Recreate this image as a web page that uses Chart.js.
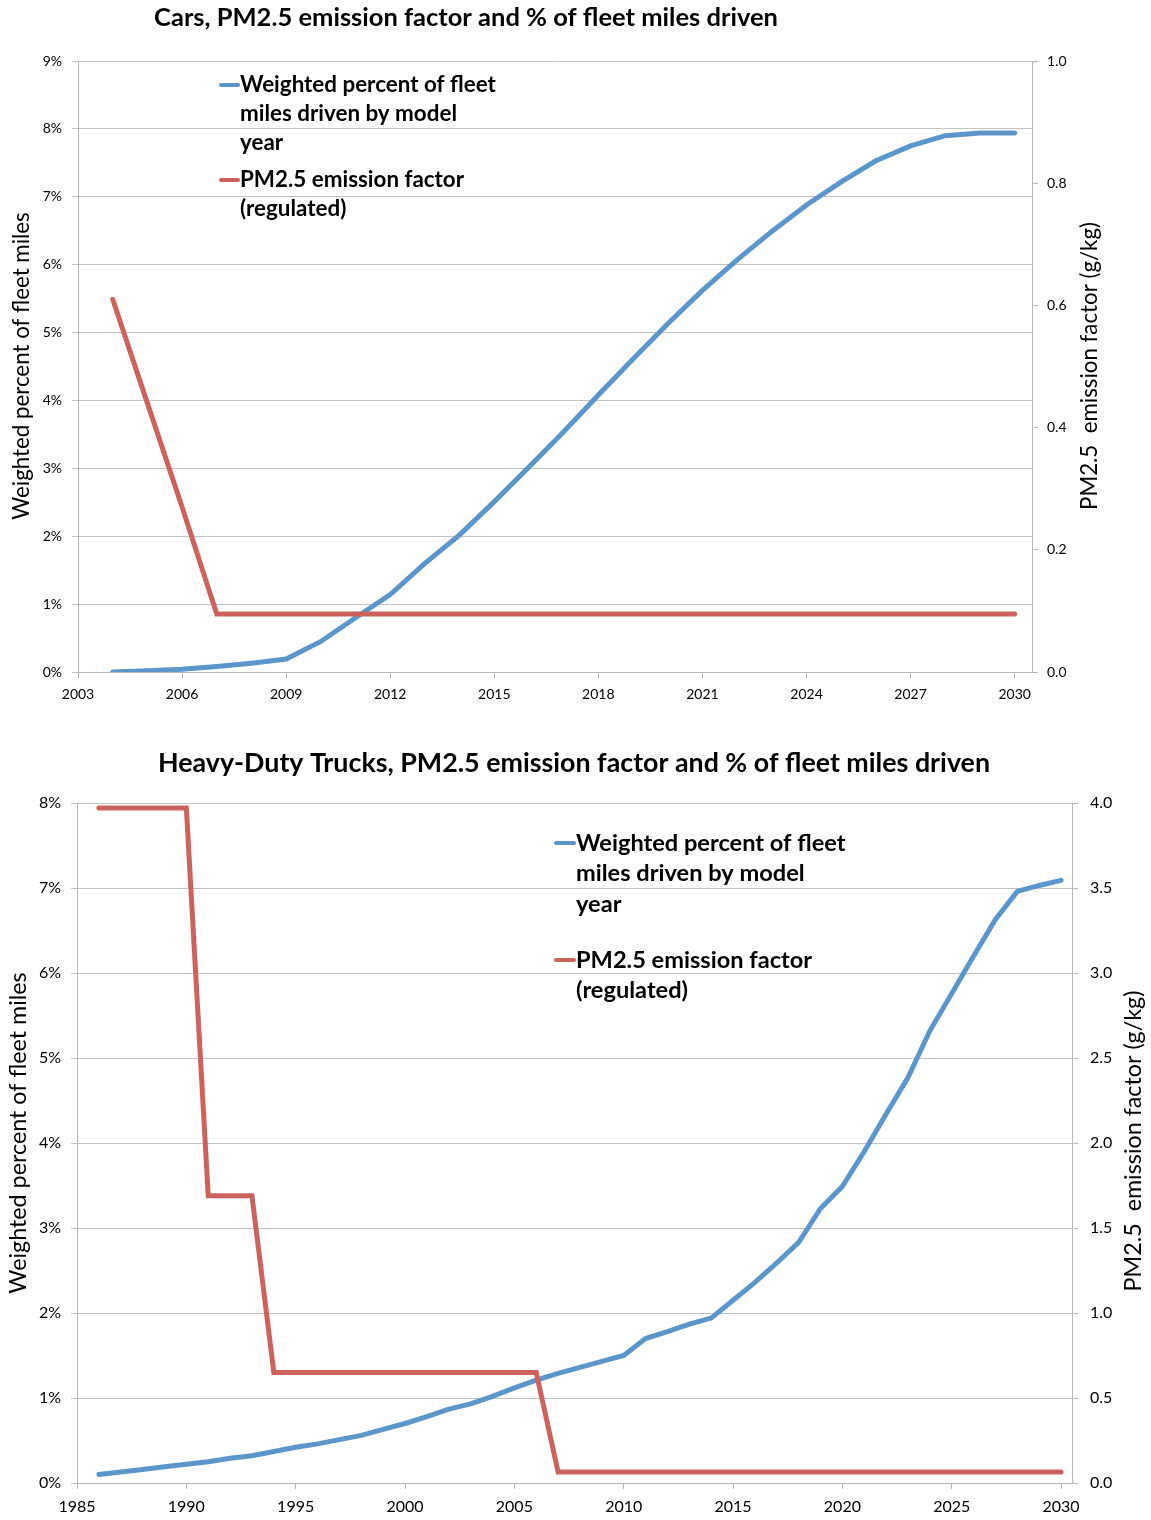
<!DOCTYPE html>
<html>
<head>
<meta charset="utf-8">
<script src="https://cdn.jsdelivr.net/npm/chart.js@4.4.0/dist/chart.umd.min.js"></script>
<style>
  html, body { margin: 0; padding: 0; background: #fff; }
  body { width: 1151px; height: 1520px; position: relative; overflow: hidden; }
  canvas { position: absolute; left: 0; }
  #cars { top: 0; }
  #trucks { top: 730px; }
</style>
</head>
<body>
<canvas id="cars" width="1151" height="712"></canvas>
<canvas id="trucks" width="1151" height="790"></canvas>
<script>
// ---- data: cars ----
const carYears = [2004, 2005, 2006, 2007, 2008, 2009, 2010, 2011, 2012, 2013, 2014, 2015, 2016, 2017,
  2018, 2019, 2020, 2021, 2022, 2023, 2024, 2025, 2026, 2027, 2028, 2029, 2030];
const carMilesPct = [0.00, 0.02, 0.04, 0.08, 0.13, 0.19, 0.45, 0.80, 1.14, 1.60, 2.02, 2.51, 3.02, 3.54,
  4.08, 4.61, 5.13, 5.62, 6.07, 6.49, 6.88, 7.22, 7.53, 7.75, 7.90, 7.94, 7.94];
const carEmission = [0.61, 0.44, 0.27, 0.095, 0.095, 0.095, 0.095, 0.095, 0.095, 0.095, 0.095, 0.095, 0.095, 0.095,
  0.095, 0.095, 0.095, 0.095, 0.095, 0.095, 0.095, 0.095, 0.095, 0.095, 0.095, 0.095, 0.095];
const carXTicks = [2003, 2006, 2009, 2012, 2015, 2018, 2021, 2024, 2027, 2030];
const carPctTicks = [0, 1, 2, 3, 4, 5, 6, 7, 8, 9];
const carEmissionTicks = [0, 0.2, 0.4, 0.6, 0.8, 1.0];

// ---- data: heavy-duty trucks ----
const truckYears = [1986, 1987, 1988, 1989, 1990, 1991, 1992, 1993, 1994, 1995, 1996, 1997, 1998, 1999,
  2000, 2001, 2002, 2003, 2004, 2005, 2006, 2007, 2008, 2009, 2010, 2011, 2012, 2013, 2014, 2015,
  2016, 2017, 2018, 2019, 2020, 2021, 2022, 2023, 2024, 2025, 2026, 2027, 2028, 2029, 2030];
const truckMilesPct = [0.10, 0.13, 0.16, 0.19, 0.22, 0.25, 0.29, 0.32, 0.37, 0.42, 0.46, 0.51, 0.56, 0.63,
  0.70, 0.78, 0.87, 0.93, 1.02, 1.12, 1.21, 1.29, 1.36, 1.43, 1.50, 1.70, 1.78, 1.87, 1.94, 2.15,
  2.36, 2.59, 2.83, 3.23, 3.49, 3.90, 4.34, 4.77, 5.32, 5.76, 6.20, 6.63, 6.96, 7.03, 7.09];
const truckEmission = [3.97, 3.97, 3.97, 3.97, 3.97, 1.69, 1.69, 1.69, 0.65, 0.65, 0.65, 0.65, 0.65, 0.65,
  0.65, 0.65, 0.65, 0.65, 0.65, 0.65, 0.65, 0.065, 0.065, 0.065, 0.065, 0.065, 0.065, 0.065, 0.065, 0.065,
  0.065, 0.065, 0.065, 0.065, 0.065, 0.065, 0.065, 0.065, 0.065, 0.065, 0.065, 0.065, 0.065, 0.065, 0.065];
const truckXTicks = [1985, 1990, 1995, 2000, 2005, 2010, 2015, 2020, 2025, 2030];
const truckPctTicks = [0, 1, 2, 3, 4, 5, 6, 7, 8];
const truckEmissionTicks = [0, 0.5, 1.0, 1.5, 2.0, 2.5, 3.0, 3.5, 4.0];

const milesLabel = 'Weighted percent of fleet miles driven by model year';
const emissionLabel = 'PM2.5 emission factor (regulated)';

const FONT = 'Lato, "Open Sans", sans-serif';
const BLUE = '#5b96cb';
const RED = '#cd625d';
const GRID = '#c3c3c3';

// word-wrap a label to a max width
function wrap(ctx, text, maxW) {
  const words = text.split(' ');
  const lines = [];
  let cur = '';
  words.forEach(w => {
    const t = cur ? cur + ' ' + w : w;
    if (cur && ctx.measureText(t).width > maxW) { lines.push(cur); cur = w; } else { cur = t; }
  });
  if (cur) lines.push(cur);
  return lines;
}

// title, in-plot legend and axis titles
const overlay = {
  id: 'overlay',
  afterDraw(chart, args, o) {
    const ctx = chart.ctx;
    ctx.save();
    ctx.fillStyle = '#000';
    ctx.textBaseline = 'middle';

    ctx.font = `bold ${o.title.size}px ${FONT}`;
    ctx.textAlign = 'center';
    ctx.fillText(o.title.text, o.title.x, o.title.y);

    ctx.font = `bold ${o.legend.size}px ${FONT}`;
    ctx.textAlign = 'left';
    chart.data.datasets.forEach((ds, i) => {
      const y = o.legend.ys[i];
      ctx.strokeStyle = ds.borderColor;
      ctx.lineWidth = 4;
      ctx.lineCap = 'round';
      ctx.beginPath();
      ctx.moveTo(o.legend.x1, y);
      ctx.lineTo(o.legend.x2, y);
      ctx.stroke();
      wrap(ctx, ds.label, o.legend.maxW).forEach((ln, k) => {
        ctx.fillText(ln, o.legend.textX, y + k * o.legend.lineH);
      });
    });

    ctx.font = `${o.axisTitles.size}px ${FONT}`;
    ctx.textAlign = 'center';
    o.axisTitles.items.forEach(a => {
      ctx.save();
      ctx.translate(a.x, a.y);
      ctx.rotate(-Math.PI / 2);
      ctx.fillText(a.text, 0, 0);
      ctx.restore();
    });
    ctx.restore();
  }
};

function makeChart(id, cfg) {
  const tickFont = { family: FONT, size: cfg.tickSize };
  new Chart(document.getElementById(id), {
    type: 'line',
    data: {
      datasets: [
        {
          label: milesLabel,
          data: cfg.years.map((yr, i) => ({ x: yr, y: cfg.miles[i] })),
          borderColor: BLUE, borderWidth: 5, pointRadius: 0, tension: 0,
          borderCapStyle: 'round', yAxisID: 'y', order: 1
        },
        {
          label: emissionLabel,
          data: cfg.years.map((yr, i) => ({ x: yr, y: cfg.emission[i] })),
          borderColor: RED, borderWidth: 5, pointRadius: 0, tension: 0,
          borderCapStyle: 'round', yAxisID: 'y1', order: 0
        }
      ]
    },
    options: {
      responsive: false,
      animation: false,
      events: [],
      layout: { padding: { top: cfg.top, left: 0, right: 0, bottom: 0 } },
      plugins: { legend: { display: false }, tooltip: { enabled: false }, overlay: cfg.overlay },
      scales: {
        x: {
          type: 'linear', min: cfg.xTicks[0], max: cfg.xTicks[cfg.xTicks.length - 1] + 0.5,
          afterBuildTicks: s => { s.ticks = cfg.xTicks.map(v => ({ value: v })); },
          afterFit: s => { s.height = cfg.xHeight; },
          grid: { drawOnChartArea: false, tickLength: 6, color: '#b5b5b5' },
          border: { color: '#b5b5b5' },
          ticks: { padding: cfg.xPad, color: '#000', font: tickFont, maxRotation: 0, autoSkip: false,
            callback: v => String(v) }
        },
        y: {
          position: 'left', min: 0, max: cfg.pctTicks[cfg.pctTicks.length - 1],
          afterBuildTicks: s => { s.ticks = cfg.pctTicks.map(v => ({ value: v })); },
          afterFit: s => { s.width = cfg.leftW; },
          grid: { color: GRID, tickLength: 6 },
          border: { color: '#b5b5b5' },
          ticks: { padding: 10, color: '#000', font: tickFont, callback: v => v + '%' }
        },
        y1: {
          position: 'right', min: 0, max: cfg.emTicks[cfg.emTicks.length - 1],
          afterBuildTicks: s => { s.ticks = cfg.emTicks.map(v => ({ value: v })); },
          afterFit: s => { s.width = cfg.rightW; },
          grid: { drawOnChartArea: false, tickLength: 6, color: '#b5b5b5' },
          border: { color: '#b5b5b5' },
          ticks: { padding: cfg.rightPad, color: '#000', font: tickFont, callback: v => v.toFixed(1) }
        }
      }
    },
    plugins: [overlay]
  });
}

makeChart('cars', {
  years: carYears, miles: carMilesPct, emission: carEmission,
  xTicks: carXTicks, pctTicks: carPctTicks, emTicks: carEmissionTicks,
  top: 61, leftW: 78, rightW: 119, xHeight: 40, xPad: 8, rightPad: 9, tickSize: 14,
  overlay: {
    title: { text: 'Cars, PM2.5 emission factor and % of fleet miles driven', x: 466, y: 18, size: 25.5 },
    legend: { x1: 221, x2: 238, textX: 240, ys: [85, 180], lineH: 29, size: 22.4, maxW: 260 },
    axisTitles: { size: 22.3, items: [
      { text: 'Weighted percent of fleet miles', x: 22, y: 366 },
      { text: 'PM2.5  emission factor (g/kg)', x: 1090, y: 366 }
    ] }
  }
});

makeChart('trucks', {
  years: truckYears, miles: truckMilesPct, emission: truckEmission,
  xTicks: truckXTicks, pctTicks: truckPctTicks, emTicks: truckEmissionTicks,
  top: 73, leftW: 77, rightW: 79, xHeight: 37, xPad: 8, rightPad: 12, tickSize: 16,
  overlay: {
    title: { text: 'Heavy-Duty Trucks, PM2.5 emission factor and % of fleet miles driven', x: 574, y: 33, size: 26.8 },
    legend: { x1: 556, x2: 574, textX: 576, ys: [113, 230], lineH: 30.5, size: 23.6, maxW: 274 },
    axisTitles: { size: 23.3, items: [
      { text: 'Weighted percent of fleet miles', x: 18, y: 403 },
      { text: 'PM2.5  emission factor (g/kg)', x: 1133, y: 411 }
    ] }
  }
});
</script>
</body>
</html>
